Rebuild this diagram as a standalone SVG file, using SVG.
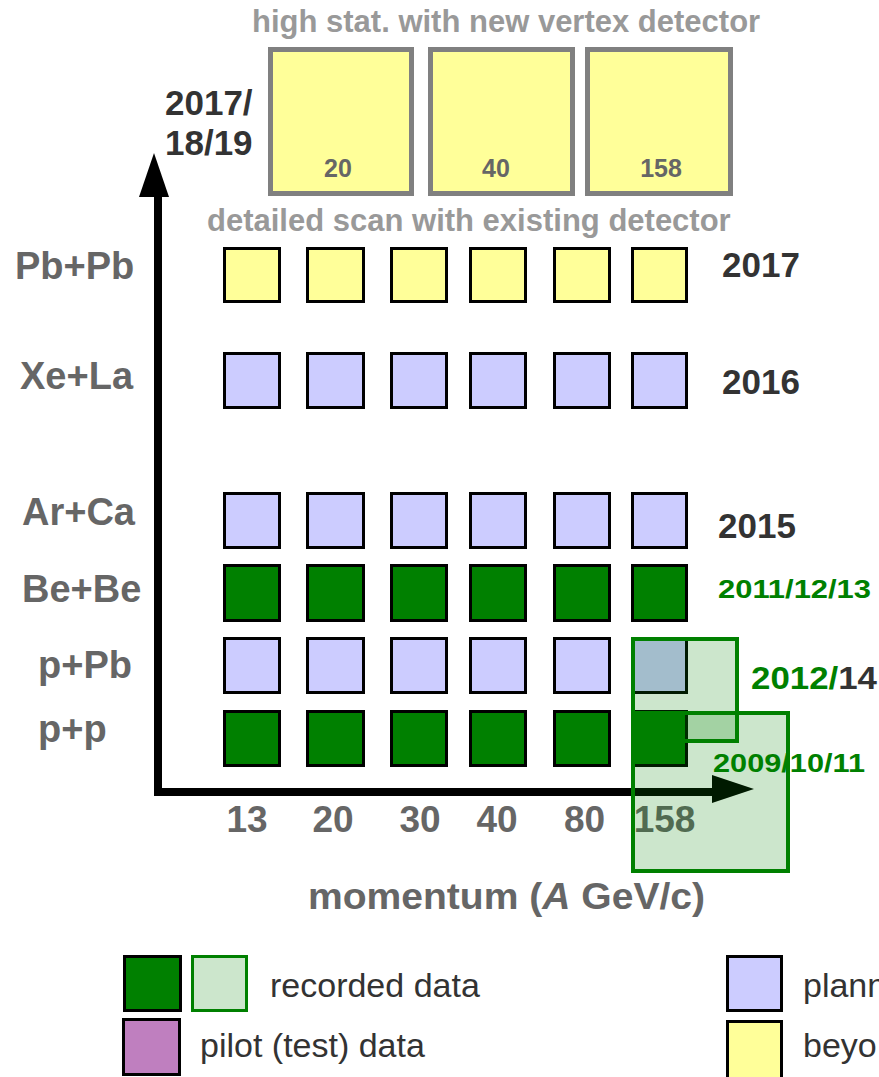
<svg xmlns="http://www.w3.org/2000/svg" width="879" height="1077" viewBox="0 0 879 1077">
<style>
text{font-family:"Liberation Sans",Arial,sans-serif}
.b{font-weight:bold}
.lab{font-size:38px;font-weight:bold;fill:#666}
.yr{font-size:35px;font-weight:bold;fill:#333}
.ax{font-size:37px;font-weight:bold;fill:#666;text-anchor:middle}
.ttl{font-size:31px;font-weight:bold;fill:#999}
.big{fill:#ffff99;stroke:#808080;stroke-width:5}
.bn{font-size:25px;font-weight:bold;fill:#666;text-anchor:middle}
.sq{stroke:#000;stroke-width:3}
.y{fill:#ffff99}
.p{fill:#ccccff}
.g{fill:#008000}
.ov{fill:#008000;fill-opacity:0.2;stroke:#008000;stroke-width:4}
.lg{font-size:34px;fill:#333}
.gt{font-weight:bold;fill:#008000}
</style>

<g id="top-titles">
<text class="ttl" x="252" y="32">high stat. with new vertex detector</text>
<text class="ttl" x="207" y="231">detailed scan with existing detector</text>
</g>

<g id="years-2017-18-19">
<text class="yr" x="165" y="115">2017/</text>
<text class="yr" x="165" y="155">18/19</text>
</g>

<g id="hs-20"><rect class="big" x="270.5" y="49.5" width="141" height="144"/><text class="bn" x="338" y="177">20</text></g>
<g id="hs-40"><rect class="big" x="430.5" y="49.5" width="142" height="144"/><text class="bn" x="496" y="177">40</text></g>
<g id="hs-158"><rect class="big" x="587.5" y="49.5" width="143" height="144"/><text class="bn" x="661" y="177">158</text></g>

<g id="row-labels">
<text class="lab" x="15" y="279">Pb+Pb</text>
<text class="lab" x="20" y="389">Xe+La</text>
<text class="lab" x="22" y="525">Ar+Ca</text>
<text class="lab" x="22" y="602">Be+Be</text>
<text class="lab" x="38" y="678">p+Pb</text>
<text class="lab" x="38" y="742">p+p</text>
</g>

<g id="row-PbPb">
<rect class="sq y" x="224.5" y="248.5" width="55" height="53"/>
<rect class="sq y" x="307.5" y="248.5" width="56" height="53"/>
<rect class="sq y" x="391.5" y="248.5" width="55" height="53"/>
<rect class="sq y" x="470.5" y="248.5" width="55" height="53"/>
<rect class="sq y" x="554.5" y="248.5" width="55" height="53"/>
<rect class="sq y" x="632.5" y="248.5" width="54" height="53"/>
</g>
<g id="row-XeLa">
<rect class="sq p" x="224.5" y="353.5" width="55" height="54"/>
<rect class="sq p" x="307.5" y="353.5" width="56" height="54"/>
<rect class="sq p" x="391.5" y="353.5" width="55" height="54"/>
<rect class="sq p" x="470.5" y="353.5" width="55" height="54"/>
<rect class="sq p" x="554.5" y="353.5" width="55" height="54"/>
<rect class="sq p" x="632.5" y="353.5" width="54" height="54"/>
</g>
<g id="row-ArCa">
<rect class="sq p" x="224.5" y="493.5" width="55" height="54"/>
<rect class="sq p" x="307.5" y="493.5" width="56" height="54"/>
<rect class="sq p" x="391.5" y="493.5" width="55" height="54"/>
<rect class="sq p" x="470.5" y="493.5" width="55" height="54"/>
<rect class="sq p" x="554.5" y="493.5" width="55" height="54"/>
<rect class="sq p" x="632.5" y="493.5" width="54" height="54"/>
</g>
<g id="row-BeBe">
<rect class="sq g" x="224.5" y="565.5" width="55" height="55"/>
<rect class="sq g" x="307.5" y="565.5" width="56" height="55"/>
<rect class="sq g" x="391.5" y="565.5" width="55" height="55"/>
<rect class="sq g" x="470.5" y="565.5" width="55" height="55"/>
<rect class="sq g" x="554.5" y="565.5" width="55" height="55"/>
<rect class="sq g" x="632.5" y="565.5" width="54" height="55"/>
</g>
<g id="row-pPb">
<rect class="sq p" x="224.5" y="638.5" width="55" height="54"/>
<rect class="sq p" x="307.5" y="638.5" width="56" height="54"/>
<rect class="sq p" x="391.5" y="638.5" width="55" height="54"/>
<rect class="sq p" x="470.5" y="638.5" width="55" height="54"/>
<rect class="sq p" x="554.5" y="638.5" width="55" height="54"/>
<rect class="sq p" x="632.5" y="638.5" width="54" height="54"/>
</g>
<g id="row-pp">
<rect class="sq g" x="224.5" y="711.5" width="55" height="54"/>
<rect class="sq g" x="307.5" y="711.5" width="56" height="54"/>
<rect class="sq g" x="391.5" y="711.5" width="55" height="54"/>
<rect class="sq g" x="470.5" y="711.5" width="55" height="54"/>
<rect class="sq g" x="554.5" y="711.5" width="55" height="54"/>
<rect class="sq g" x="632.5" y="711.5" width="54" height="54"/>
</g>

<g id="connectors">
<path d="M158,196 V792 H714" fill="none" stroke="#000" stroke-width="8" stroke-linejoin="miter"/>
<polygon points="154,153 169,197 139,197" fill="#000"/>
<polygon points="754,789 712,775 712,803" fill="#000"/>
</g>

<g id="axis-labels">
<text class="ax" x="247" y="832">13</text>
<text class="ax" x="333" y="832">20</text>
<text class="ax" x="420" y="832">30</text>
<text class="ax" x="497" y="832">40</text>
<text class="ax" x="584.5" y="832">80</text>
<text class="ax" x="664.5" y="832">158</text>
<text class="b" x="308" y="909" font-size="37" fill="#666" textLength="397" lengthAdjust="spacingAndGlyphs">momentum (<tspan font-style="italic">A</tspan> GeV/c)</text>
</g>

<g id="recorded-2012-14">
<rect class="ov" x="633" y="639" width="104" height="102"/>
</g>
<g id="recorded-2009-10-11">
<rect class="ov" x="633" y="713" width="155" height="158"/>
</g>

<g id="year-labels">
<text class="yr" x="722" y="277">2017</text>
<text class="yr" x="722" y="394">2016</text>
<text class="yr" x="718" y="538">2015</text>
<text class="gt" x="718" y="598" font-size="25" textLength="153" lengthAdjust="spacingAndGlyphs">2011/12/13</text>
<text class="gt" x="751" y="689" font-size="31" textLength="126" lengthAdjust="spacingAndGlyphs">2012/<tspan fill="#333">14</tspan></text>
<text class="gt" x="713" y="772" font-size="26" textLength="152" lengthAdjust="spacingAndGlyphs">2009/10/11</text>
</g>

<g id="legend">
<rect class="sq g" x="124.5" y="956.5" width="56" height="54"/>
<rect x="192.5" y="956.5" width="54" height="54" fill="#cce6cc" stroke="#008000" stroke-width="3"/>
<text class="lg" x="270" y="997">recorded data</text>
<rect class="sq" x="123.5" y="1019.5" width="56" height="55" fill="#bf7fbf"/>
<text class="lg" x="200" y="1057">pilot (test) data</text>
<rect class="sq p" x="727.5" y="956.5" width="54" height="54"/>
<text class="lg" x="803" y="997">plann</text>
<rect class="sq y" x="727.5" y="1021.5" width="54" height="60"/>
<text class="lg" x="803" y="1057">beyo</text>
</g>
</svg>
